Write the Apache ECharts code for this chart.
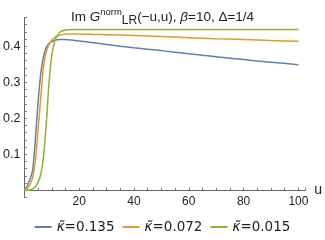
<!DOCTYPE html>
<html><head><meta charset="utf-8">
<script src="https://cdn.jsdelivr.net/npm/echarts@6/dist/echarts.min.js"></script>
<style>html,body{margin:0;padding:0;background:#fff}#c{width:325px;height:240px}</style>
</head><body><div id="c"></div>
<script>
const u = [0,1,2,3,4,5,6,7,8,9,10,11,12,13,14,15,16,18,20,25,30,40,50,60,70,80,90,100];
const k135 = [0,0.012,0.03,0.055,0.14,0.245,0.325,0.372,0.397,0.408,0.413,0.416,0.418,0.419,0.419,0.419,0.418,0.417,0.415,0.410,0.405,0.396,0.388,0.379,0.371,0.363,0.356,0.349];
const k072 = [0,0.004,0.015,0.035,0.08,0.167,0.26,0.345,0.385,0.405,0.417,0.424,0.428,0.431,0.433,0.434,0.434,0.434,0.434,0.433,0.432,0.430,0.427,0.424,0.421,0.419,0.416,0.414];
const k015 = [0,0,0.001,0.004,0.01,0.022,0.045,0.095,0.185,0.3,0.375,0.412,0.43,0.439,0.443,0.445,0.446,0.447,0.447,0.447,0.447,0.447,0.447,0.447,0.447,0.447,0.447,0.447];
const names = ['κ̃=0.135','κ̃=0.072','κ̃=0.015'];
const colors = ['#5E81B5','#E19C24','#8FB032'];
const yTickLabels = [0.1,0.2,0.3,0.4];
const xTickLabels = [20,40,60,80,100];

const font = 'Liberation Sans, Arial, sans-serif';
const lfont = 'DejaVu Sans, sans-serif';
const pair = arr => u.map((x,i)=>[x,arr[i]]);
const chart = echarts.init(document.getElementById('c'), null, {renderer:'canvas'});
chart.setOption({
  animation:false,
  title:{
    left:'center', top:2,
    text:'{n|Im }{i|G}{sup|norm}{sub|LR}{n|(−u,u), }{i|β}{n|=10, Δ=1/4}',
    textStyle:{
      fontWeight:'normal',
      rich:{
        n:{fontFamily:font,fontSize:13.5,fontWeight:'normal',color:'#222',lineHeight:20,verticalAlign:'middle'},
        i:{fontFamily:font,fontSize:13.5,fontWeight:'normal',fontStyle:'italic',color:'#222',lineHeight:20,verticalAlign:'middle'},
        sup:{fontFamily:font,fontSize:9.5,fontWeight:'normal',color:'#222',lineHeight:11,verticalAlign:'top'},
        sub:{fontFamily:font,fontSize:12,fontWeight:'normal',color:'#222',lineHeight:13,verticalAlign:'bottom'}
      }
    }
  },
  legend:{
    bottom:1, left:'center', itemWidth:17, itemHeight:2, itemGap:8,
    icon:'rect',
    data:names,
    formatter: n => '{i|κ̃}{n|' + n.slice(2) + '}',
    textStyle:{rich:{
      i:{fontFamily:lfont,fontSize:13.5,fontStyle:'italic',color:'#222'},
      n:{fontFamily:lfont,fontSize:13.5,color:'#222'}
    }}
  },
  grid:{left:24,right:16,top:17.5,bottom:42.5},
  xAxis:{
    type:'value', min:0, max:102.5, interval:5, offset:-7.2,
    name:'u', nameLocation:'end', nameGap:6,
    nameTextStyle:{fontFamily:font,fontSize:14,color:'#222',verticalAlign:'middle'},
    axisLine:{onZero:false,lineStyle:{color:'#666',width:1}},
    axisTick:{inside:true,length:2.5,lineStyle:{color:'#777'}},
    splitLine:{show:false},
    axisLabel:{fontFamily:font,fontSize:12,color:'#222',margin:5,
      formatter:v => xTickLabels.includes(Math.round(v)) && Math.abs(v-Math.round(v))<1e-6 ? String(v) : ''}
  },
  yAxis:{
    type:'value', min:-0.02, max:0.48, interval:0.02,
    axisLine:{show:true,lineStyle:{color:'#666',width:1}},
    axisTick:{show:true,inside:true,length:2.5,lineStyle:{color:'#777'}},
    splitLine:{show:false},
    axisLabel:{fontFamily:font,fontSize:12.5,color:'#222',margin:4,
      formatter:v => { const r = Math.round(v*10)/10; return (Math.abs(v-r)<1e-6 && yTickLabels.includes(r)) ? r.toFixed(1) : ''; }}
  },
  series:[k135,k072,k015].map((d,i)=>({
    type:'line', name:names[i], data:pair(d), symbol:'none', smooth:0.25,
    lineStyle:{color:colors[i],width:1.5}, itemStyle:{color:colors[i]}
  }))
});
</script></body></html>
